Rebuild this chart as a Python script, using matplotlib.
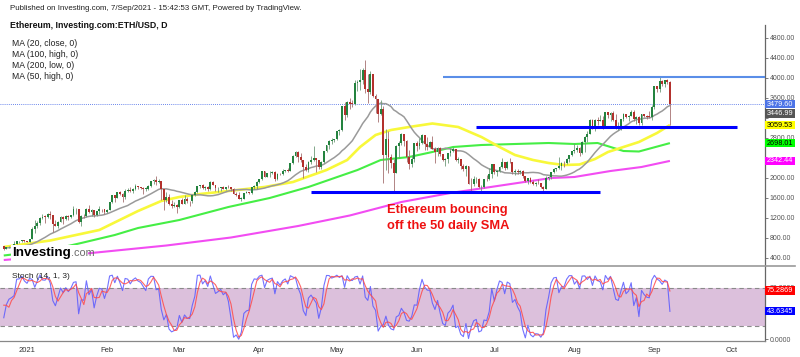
import numpy as np
import pandas as pd
import matplotlib
matplotlib.use('Agg')
import matplotlib.pyplot as plt
import matplotlib.dates as mdates
from matplotlib.patches import Rectangle
from matplotlib.lines import Line2D

plt.rcParams['font.family'] = ['Liberation Sans', 'DejaVu Sans']

# ---------------- data (daily ETH/USD, Dec 4 2020 .. Sep 7 2021) ----------------
start_date = '2020-12-04'
first_open = 615
close = [
    570, 596, 601, 591, 573, 585, 560, 546, 568, 590, 586, 589, 636, 643, 654, 659, 639, 609, 634, 584, 612, 626, 636, 683, 731, 732, 751, 737,
    730, 775, 979, 1042, 1100, 1208, 1225, 1224, 1281, 1262, 1090, 1043, 1130, 1218, 1171, 1233, 1230, 1257, 1377, 1382, 1121, 1236, 1231, 1390, 1325, 1362, 1253, 1331, 1382, 1377, 1315,
    1370, 1512, 1661, 1594, 1719, 1677, 1614, 1749, 1769, 1744, 1784, 1843, 1814, 1805, 1779, 1782, 1848, 1938, 1960, 1919, 1935, 1781, 1570, 1626, 1475, 1446, 1459, 1417,
    1567, 1488, 1573, 1537, 1531, 1655, 1723, 1835, 1868, 1795, 1826, 1772, 1924, 1855, 1792, 1806, 1823, 1782, 1817, 1812, 1782, 1681, 1669, 1582, 1588, 1702, 1716, 1691, 1819, 1846, 1919,
    1977, 2143, 2028, 2094, 2108, 2118, 1971, 2089, 2073, 2137, 2153, 2138, 2300, 2433, 2515, 2425, 2364, 2212, 2166, 2330, 2365, 2403, 2364, 2211, 2317, 2534, 2662, 2748, 2758, 2773,
    2945, 2952, 3431, 3253, 3522, 3490, 3484, 3902, 3928, 3952, 4168, 3785, 3715, 4079, 3638, 3587, 3282, 3375, 2460, 2785, 2430, 2296, 2110, 2643, 2706, 2888, 2736, 2419, 2279, 2386, 2706,
    2633, 2706, 2856, 2688, 2630, 2715, 2590, 2517, 2608, 2471, 2353, 2372, 2508, 2536, 2589, 2365, 2374, 2231, 2178, 2245, 1888, 1875, 1971, 1990, 1813, 1830, 1982, 1972, 2085, 2275,
    2113, 2150, 2226, 2320, 2198, 2324, 2316, 2115, 2146, 2111, 2139, 2037, 1940, 1995, 1917, 1880, 1898, 1895, 1819, 1788, 1995, 2027, 2124, 2187, 2191, 2233, 2300, 2298, 2382, 2461, 2540,
    2558, 2610, 2502, 2725, 2827, 2890, 3158, 3013, 3163, 3141, 3164, 3049, 3322, 3266, 3310, 3157, 3014, 3018, 3183, 3287, 3226, 3242, 3320, 3174, 3225, 3104, 3271, 3245, 3228, 3224, 3430,
    3834, 3790, 3941, 3887, 3952, 3927, 3479.6]
high = [
    620, 598, 605, 604, 592, 592, 588, 561, 570, 595, 592, 595, 643, 676, 658, 666, 667, 647, 637, 635, 614, 633, 644, 739, 743, 736, 755, 754,
    749, 787, 1011, 1156, 1132, 1211, 1278, 1266, 1300, 1347, 1260, 1151, 1133, 1245, 1246, 1259, 1256, 1263, 1438, 1394, 1383, 1258, 1272, 1403, 1470, 1372, 1363, 1343, 1434, 1389, 1385,
    1380, 1520, 1664, 1670, 1730, 1741, 1700, 1780, 1808, 1826, 1791, 1871, 1845, 1825, 1816, 1830, 1862, 1947, 1971, 2036, 1983, 1938, 1782, 1711, 1673, 1559, 1527, 1474,
    1568, 1600, 1651, 1620, 1547, 1667, 1733, 1839, 1870, 1877, 1838, 1833, 1935, 1932, 1860, 1817, 1830, 1844, 1830, 1866, 1819, 1807, 1722, 1728, 1624, 1703, 1732, 1721, 1830, 1856, 1947,
    1985, 2146, 2145, 2097, 2134, 2148, 2131, 2096, 2098, 2184, 2160, 2197, 2307, 2452, 2545, 2547, 2498, 2360, 2275, 2345, 2433, 2640, 2410, 2370, 2340, 2536, 2668, 2756, 2798, 2790,
    2950, 2987, 3448, 3526, 3541, 3610, 3570, 3960, 3965, 4190, 4195, 4370, 4080, 4140, 4080, 3690, 3590, 3560, 3440, 2990, 2940, 2490, 2380, 2660, 2750, 2910, 2890, 2760, 2560, 2470, 2710,
    2740, 2800, 2890, 2860, 2820, 2740, 2850, 2620, 2620, 2620, 2480, 2410, 2510, 2600, 2620, 2590, 2430, 2390, 2280, 2260, 2250, 2000, 2050, 2030, 2000, 1870, 1990, 2060, 2200, 2280,
    2280, 2160, 2240, 2400, 2320, 2350, 2410, 2320, 2190, 2180, 2160, 2160, 2050, 2000, 2030, 1970, 1930, 1990, 1900, 1840, 2040, 2050, 2130, 2210, 2200, 2430, 2320, 2340, 2400, 2470, 2550,
    2700, 2660, 2630, 2740, 2840, 2950, 3180, 3180, 3180, 3230, 3270, 3240, 3330, 3330, 3320, 3340, 3280, 3130, 3190, 3300, 3280, 3270, 3370, 3360, 3250, 3250, 3280, 3290, 3260, 3340, 3470,
    3840, 3840, 4030, 3960, 3970, 3980, 3950]
low = [
    560, 561, 584, 585, 565, 530, 557, 538, 544, 563, 578, 580, 584, 624, 628, 643, 625, 600, 597, 565, 583, 609, 625, 634, 684, 705, 723, 720,
    716, 714, 775, 897, 992, 1056, 1171, 1102, 1207, 1172, 914, 1031, 1000, 1130, 1090, 1165, 1164, 1195, 1250, 1285, 1110, 1047, 1200, 1217, 1304, 1250, 1220, 1240, 1285, 1320, 1273,
    1303, 1363, 1506, 1512, 1598, 1661, 1530, 1577, 1720, 1714, 1700, 1766, 1778, 1785, 1671, 1732, 1761, 1819, 1890, 1870, 1897, 1560, 1370, 1511, 1462, 1400, 1428, 1293,
    1410, 1473, 1474, 1505, 1440, 1500, 1636, 1708, 1810, 1780, 1757, 1735, 1761, 1852, 1743, 1730, 1735, 1775, 1760, 1807, 1743, 1673, 1650, 1582, 1546, 1587, 1693, 1678, 1690, 1788, 1780,
    1909, 1968, 2025, 2013, 2020, 2076, 1945, 1968, 2055, 2070, 2124, 2123, 2131, 2282, 2419, 2312, 2330, 2005, 2150, 2130, 2285, 2349, 2115, 2186, 2171, 2307, 2519, 2585, 2680, 2720,
    2760, 2860, 2950, 3166, 3213, 3390, 3430, 3470, 3746, 3760, 3880, 3710, 3500, 3690, 3630, 3300, 3125, 3270, 1900, 2170, 2110, 2200, 1730, 2100, 2400, 2660, 2650, 2330, 2180, 2230, 2320,
    2540, 2580, 2690, 2560, 2570, 2610, 2580, 2310, 2450, 2440, 2340, 2250, 2310, 2450, 2520, 2350, 2310, 2180, 2150, 2050, 1880, 1710, 1850, 1900, 1800, 1720, 1810, 1940, 1970, 2010,
    2090, 2050, 2120, 2210, 2160, 2190, 2300, 2080, 2060, 2080, 2090, 2010, 1930, 1880, 1900, 1860, 1850, 1880, 1800, 1720, 1780, 1960, 1990, 2110, 2140, 2190, 2160, 2230, 2290, 2320, 2450,
    2510, 2530, 2450, 2480, 2530, 2730, 2880, 2990, 2950, 3060, 3140, 2990, 3030, 3200, 3150, 3150, 2990, 2960, 2970, 3150, 3200, 3140, 3240, 3150, 3080, 3060, 3070, 3220, 3180, 3200, 3160,
    3390, 3720, 3720, 3850, 3830, 3880, 3060]

ma50_dates = ['2020-12-23', '2021-01-10', '2021-01-29', '2021-02-13', '2021-02-22', '2021-03-01', '2021-03-09', '2021-03-20',
              '2021-04-03', '2021-04-14', '2021-04-27', '2021-05-05', '2021-05-10', '2021-05-16', '2021-05-22', '2021-05-29',
              '2021-06-07', '2021-06-17', '2021-06-26', '2021-07-03', '2021-07-09', '2021-07-16', '2021-07-22', '2021-07-28',
              '2021-08-03', '2021-08-09', '2021-08-14', '2021-08-20', '2021-08-26', '2021-09-02', '2021-09-07']
ma50_vals = [620, 750, 960, 1340, 1540, 1620, 1680, 1740, 1820, 1920, 2160, 2360, 2620, 2860, 2960, 3020,
             3090, 3020, 2820, 2620, 2460, 2360, 2300, 2260, 2270, 2380, 2520, 2620, 2720, 2900, 3060]
ma100_dates = ['2020-12-23', '2021-01-10', '2021-01-22', '2021-02-04', '2021-02-13', '2021-03-01', '2021-03-20', '2021-04-05',
               '2021-04-20', '2021-05-09', '2021-05-18', '2021-05-29', '2021-06-07', '2021-06-15', '2021-06-26', '2021-07-09',
               '2021-07-22', '2021-08-01', '2021-08-10', '2021-08-20', '2021-08-26', '2021-09-07']
ma100_vals = [450, 560, 700, 860, 1000, 1160, 1420, 1600, 1820, 2160, 2360, 2420, 2520, 2620, 2660, 2680,
              2700, 2680, 2700, 2540, 2530, 2698]
ma200_dates = ['2020-12-23', '2021-01-24', '2021-02-24', '2021-03-21', '2021-04-16', '2021-05-06', '2021-05-26', '2021-06-14',
               '2021-06-27', '2021-07-10', '2021-07-23', '2021-08-01', '2021-08-15', '2021-08-27', '2021-09-07']
ma200_vals = [360, 490, 650, 810, 1040, 1250, 1520, 1700, 1800, 1900, 2000, 2020, 2140, 2220, 2342]

# annotation lines (price, start, end)
res_line = (4015, '2021-06-11', '2021-10-20')
mid_line = (3026, '2021-06-24', '2021-10-03')
sup_line = (1726, '2021-04-21', '2021-08-11')

last_labels = [('3479.60', 3479.6), ('3446.99', None), ('3059.53', 3059.53), ('2698.01', 2698.01), ('2342.44', 2342.44)]
stoch_labels = [('75.2869', 75.2869), ('43.6345', 43.6345)]
month_labels = ['2021', 'Feb', 'Mar', 'Apr', 'May', 'Jun', 'Jul', 'Aug', 'Sep', 'Oct']
price_ticks = [400, 800, 1200, 1600, 2000, 2400, 2800, 3200, 3600, 4000, 4400, 4800]
hidden_price_ticks = [2400, 3200]   # covered by the value labels

# ---------------- derived ----------------
dates = pd.date_range(start_date, periods=len(close), freq='D')
assert len(close) == len(high) == len(low)
c = np.array(close, float)
o = np.concatenate([[first_open], c[:-1]])
h = np.maximum.reduce([np.array(high, float), o, c])
l = np.minimum.reduce([np.array(low, float), o, c])
xd = mdates.date2num(dates)

ma20 = pd.Series(c).rolling(20, min_periods=1).mean().values
hh = pd.Series(h).rolling(14, min_periods=1).max()
ll = pd.Series(l).rolling(14, min_periods=1).min()
k = (100 * (pd.Series(c) - ll) / (hh - ll)).values
d = pd.Series(k).rolling(3, min_periods=1).mean().values

vis = dates >= pd.Timestamp('2020-12-23')

# ---------------- figure ----------------
W, H = 800, 357
fig = plt.figure(figsize=(W / 100, H / 100), dpi=100)
fig.patch.set_facecolor('white')
fx = lambda px: px / W
fy = lambda py: 1 - py / H

ax = fig.add_axes([0, fy(266), fx(765), fy(25) - fy(266)])
ax2 = fig.add_axes([0, fy(341), fx(765), fy(266) - fy(341)])

jan1 = mdates.date2num(pd.Timestamp('2021-01-01'))
ppd = 2.582
xlim = (jan1 - 27 / ppd, jan1 + 738 / ppd)
for a in (ax, ax2):
    a.set_xlim(*xlim)
    for s in ('top', 'left', 'bottom'):
        a.spines[s].set_visible(False)
    a.spines['right'].set_color('#666666')
    a.spines['right'].set_linewidth(0.9)
    a.yaxis.tick_right()
    a.tick_params(axis='y', length=2, width=0.6, color='#666666', labelsize=5, labelcolor='#555555', pad=1.5)

ax.set_ylim(240, 5060)
ax2.set_ylim(-2.8, 113.8)

# candles
xv, ov, hv, lv, cv = xd[vis], o[vis], h[vis], l[vis], c[vis]
up = cv >= ov
green, red = '#24833f', '#b3312d'
cols = np.where(up, green, red)
ax.vlines(xv, lv, hv, colors=np.where(up, '#6f9a78', '#a57070'), linewidth=0.6, zorder=3)
body_lo = np.minimum(ov, cv)
body_h = np.maximum(np.abs(cv - ov), 12)
ax.bar(xv, body_h, bottom=body_lo, width=0.72, color=cols, linewidth=0, zorder=4)

# moving averages
ax.plot(mdates.date2num(pd.to_datetime(ma200_dates)), ma200_vals, color='#f24cf2', lw=1.5, zorder=2, solid_capstyle='butt')
ax.plot(mdates.date2num(pd.to_datetime(ma100_dates)), ma100_vals, color='#45ee45', lw=1.5, zorder=2, solid_capstyle='butt')
ax.plot(mdates.date2num(pd.to_datetime(ma50_dates)), ma50_vals, color='#f8f83a', lw=1.9, zorder=2, solid_capstyle='butt')
ax.plot(xv, ma20[vis], color='#9a9a9a', lw=1.1, zorder=2)

# horizontal lines
def hline(a, spec, color, lw):
    p, s, e = spec
    a.plot(mdates.date2num(pd.to_datetime([s, e])), [p, p], color=color, lw=lw, zorder=5, solid_capstyle='butt')

hline(ax, res_line, '#5a8ee8', 1.5)
hline(ax, mid_line, '#0000ff', 2.2)
hline(ax, sup_line, '#0000ff', 2.2)
ax.axhline(3479.6, color='#3a5fe5', lw=0.6, ls=(0, (1, 1.5)), zorder=1)

ax.set_yticks(price_ticks)
ax.set_yticklabels(['' if t in hidden_price_ticks else '%.2f' % t for t in price_ticks])
ax.set_xticks([])

# stochastic panel
ax2.axhspan(20, 80, color='#dcc0dc', zorder=0, lw=0)
ax2.axhline(20, color='#8a8a8a', lw=0.8, ls=(0, (4, 3)), zorder=1)
ax2.axhline(80, color='#8a8a8a', lw=0.8, ls=(0, (4, 3)), zorder=1)
ax2.plot(xd[vis], k[vis], color='#5a5aff', lw=0.8, alpha=0.85, zorder=3)
ax2.plot(xd[vis], d[vis], color='#ff4a4a', lw=0.8, alpha=0.85, zorder=4)
ax2.spines['bottom'].set_visible(True)
ax2.spines['bottom'].set_color('#888888')
ax2.spines['bottom'].set_linewidth(0.9)
ax2.set_yticks([0, 80])
ax2.yaxis.set_major_formatter(matplotlib.ticker.FormatStrFormatter('%.4f'))
mt = mdates.date2num(pd.date_range('2021-01-01', '2021-10-01', freq='MS'))
ax2.set_xticks(mt)
ax2.set_xticklabels(month_labels)
ax2.tick_params(axis='x', length=0, labelsize=5.5, labelcolor='#333333', pad=4)

# separator line
fig.add_artist(Line2D([0, fx(795)], [fy(266), fy(266)], color='#9a9a9a', lw=1.2, transform=fig.transFigure))

# right-side value labels
to_fig = lambda a, v: fig.transFigure.inverted().transform(a.transData.transform((xlim[0], v)))[1]

def rlabel(yf, text, bg, fg):
    hgt = 8.6 / H
    fig.add_artist(Rectangle((fx(765), yf - hgt / 2), fx(795) - fx(765), hgt, transform=fig.transFigure,
                             facecolor=bg, edgecolor='none', zorder=5))
    fig.text(fx(780), yf, text, ha='center', va='center', fontsize=5.2, color=fg, zorder=6)

lab_style = {'3479.60': ('#4d74e6', 'white'), '3446.99': ('#555555', 'white'), '3059.53': ('#ffff00', 'black'),
             '2698.01': ('#00ff00', 'black'), '2342.44': ('#ff00ff', 'white')}
prev = None
for txt, val in last_labels:
    if val is None:
        yf = prev - 9.4 / H
    else:
        yf = to_fig(ax, val)
    bg, fg = lab_style[txt]
    rlabel(yf, txt, bg, fg)
    prev = yf
rlabel(to_fig(ax2, stoch_labels[0][1]), stoch_labels[0][0], '#ff0000', 'white')
rlabel(to_fig(ax2, stoch_labels[1][1]), stoch_labels[1][0], '#0000ff', 'white')

# header texts
fig.text(fx(10), fy(8), 'Published on Investing.com, 7/Sep/2021 - 15:42:53 GMT, Powered by TradingView.',
         fontsize=5.65, color='#222222', va='center', ha='left')
fig.text(fx(10), fy(25), 'Ethereum, Investing.com:ETH/USD, D', fontsize=6.3, fontweight='bold',
         color='#111111', va='center', ha='left')
for i, t in enumerate(['MA (20, close, 0)', 'MA (100, high, 0)', 'MA (200, low, 0)', 'MA (50, high, 0)']):
    fig.text(fx(12), fy(44 + i * 10.7), t, fontsize=6.2, color='#222222', va='center', ha='left')
fig.text(fx(12), fy(276), 'Stoch (14, 1, 3)', fontsize=6.0, color='#222222', va='center', ha='left')

# annotation
fig.text(fx(387), fy(210), 'Ethereum bouncing', fontsize=9.3, fontweight='bold', color='#ee1111', va='center', ha='left')
fig.text(fx(387), fy(226), 'off the 50 daily SMA', fontsize=9.3, fontweight='bold', color='#ee1111', va='center', ha='left')

# logo
fig.add_artist(Rectangle((fx(11), fy(262)), fx(77), 17 / H, transform=fig.transFigure, facecolor='white',
                         edgecolor='none', zorder=4))
t1 = fig.text(fx(12), fy(256), 'Investing', fontsize=9.6, fontweight='bold', color='black', va='baseline', ha='left', zorder=5)
fig.canvas.draw()
bb = t1.get_window_extent(fig.canvas.get_renderer())
fig.text(bb.x1 / W, fy(256), '.com', fontsize=7.8, color='#6a6a6a', va='baseline', ha='left', zorder=5)

fig.savefig('out.png', dpi=100, facecolor='white')
